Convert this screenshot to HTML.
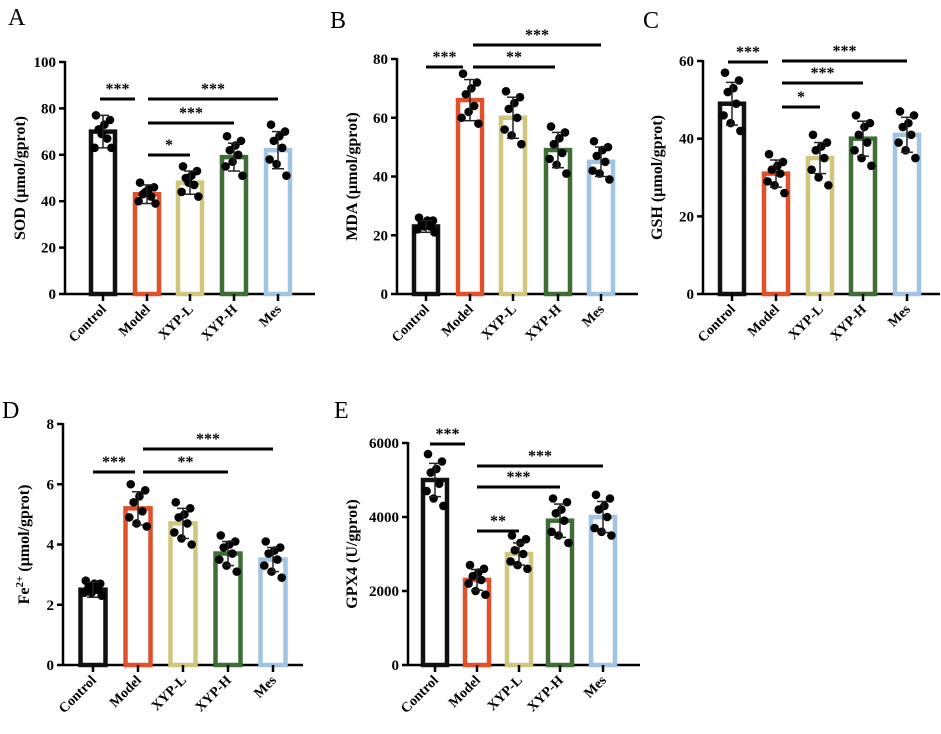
<!DOCTYPE html>
<html><head><meta charset="utf-8"><style>
body{margin:0;background:#fff}
svg{display:block;font-family:"Liberation Serif",serif}
</style></head><body>
<svg id="fig" width="941" height="734" viewBox="0 0 941 734"></svg>
<script>
const groups=["Control","Model","XYP-L","XYP-H","Mes"];
const colors=["#111111","#e0512b","#cfc57d","#3e6d36","#a0c4e2"];
const sodMeans=[70,43,48,59,62], sodSd=[7,4,5,6,8];
const sodPts=[[77,75,71,67,63,63,69,73],[48,46,43,42,40,39,44,45],[55,53,50,47,44,42,48,51],[68,66,62,60,55,51,57,64],[73,70,66,63,58,51,56,68]];
const mdaMeans=[23,66,60,49,45], mdaSd=[2,7,7,6,5];
const mdaPts=[[26,25,24,23,22,21,23,25],[75,72,68,64,60,58,62,70],[69,67,63,60,56,51,54,65],[57,55,51,48,46,41,44,53],[52,50,47,45,42,39,41,49]];
const gshMeans=[49,31,35,40,41], gshSd=[5.5,3.5,4,4.5,4.5];
const gshPts=[[57,55,52,49,46,42,44,53],[36,34,32,31,29,26,28,33],[41,39,37,35,32,28,30,38],[46,44,41,39,37,33,35,43],[47,46,43,41,39,35,37,44]];
const feMeans=[2.5,5.2,4.7,3.7,3.5], feSd=[0.25,0.55,0.5,0.4,0.4];
const fePts=[[2.8,2.7,2.6,2.5,2.4,2.3,2.4,2.7],[6.0,5.8,5.4,5.1,4.9,4.6,4.7,5.6],[5.4,5.2,4.9,4.7,4.4,4.0,4.2,5.0],[4.3,4.1,3.9,3.7,3.5,3.1,3.3,4.0],[4.1,3.9,3.7,3.5,3.3,2.9,3.1,3.8]];
const gpxMeans=[5000,2300,3000,3900,4000], gpxSd=[450,280,300,450,420];
const gpxPts=[[5700,5500,5200,4900,4700,4300,4500,5300],[2700,2600,2400,2300,2200,1900,2000,2500],[3500,3400,3100,3000,2800,2600,2700,3300],[4500,4400,4100,3900,3600,3300,3500,4200],[4600,4500,4200,4000,3700,3500,3600,4300]];
const sodTicks=[0,20,40,60,80,100], mdaTicks=[0,20,40,60,80], gshTicks=[0,20,40,60], feTicks=[0,2,4,6,8], gpxTicks=[0,2000,4000,6000];
const NS="http://www.w3.org/2000/svg";
const svg=document.getElementById('fig');
function mk(tag,attrs,parent,txt){const e=document.createElementNS(NS,tag);for(const k in attrs)e.setAttribute(k,attrs[k]);if(txt!==undefined)e.textContent=txt;(parent||svg).appendChild(e);return e;}
const jit=[-0.25,0.25,-0.15,0.15,-0.3,0.3,-0.05,0.05];
function panel(o){
  const g=mk('g',{});
  
  
  const ymax=o.ticks[o.ticks.length-1];
  const Y=v=>o.y0-(v/ymax)*(o.y0-o.yTop);
  const X=i=>o.cx[i];
  const L=mk('text',{x:o.lx,y:o.ly,'font-size':24},g,o.letter);
  
  const ya=mk('line',{x1:o.ax,y1:o.yTop-1,x2:o.ax,y2:o.y0+1,stroke:'#000','stroke-width':2.5},g);
  
  const xa=mk('line',{x1:o.ax,y1:o.y0,x2:o.axEnd,y2:o.y0,stroke:'#000','stroke-width':2.5},g);
  
  o.ticks.forEach(t=>{
    mk('line',{x1:o.ax-6,y1:Y(t),x2:o.ax,y2:Y(t),stroke:'#000','stroke-width':2.5},g);
    const tl=mk('text',{x:o.ax-9,y:Y(t)+5,'font-size':15,'font-weight':'bold','text-anchor':'end'},g,t);
    
  });
  const yt=mk('text',{transform:`translate(${o.ytx},${(o.yTop+o.y0)/2}) rotate(-90)`,'font-size':16,'font-weight':'bold','text-anchor':'middle'},g);
  
  if(o.fe){mk('tspan',{},yt,'Fe');mk('tspan',{dy:-6,'font-size':11},yt,'2+');mk('tspan',{dy:6},yt,' (µmol/gprot)');}
  else yt.textContent=o.title;
  groups.forEach((gn,i)=>{
    const bw=o.bw;
    const b=mk('rect',{x:X(i)-bw/2+2,y:Y(o.means[i]),width:bw-4,height:o.y0-Y(o.means[i]),fill:'none',stroke:colors[i],'stroke-width':4.5},g);
    
    mk('line',{x1:X(i),y1:o.y0,x2:X(i),y2:o.y0+7,stroke:'#000','stroke-width':2.5},g);
    const xl=mk('text',{transform:`translate(${X(i)+4},${o.y0+16}) rotate(-45)`,'font-size':14,'font-weight':'bold','text-anchor':'end'},g,gn);
    
    o.pts[i].forEach((v,k)=>{
      const d=mk('circle',{cx:X(i)+jit[k]*bw,cy:Y(v),r:4.3,fill:'#000'},g);
      
    });
    const m=o.means[i],s=o.sd[i];
    mk('line',{x1:X(i),y1:Y(m+s),x2:X(i),y2:Y(m-s),stroke:'#222','stroke-width':1.5},g);
    mk('line',{x1:X(i)-6,y1:Y(m+s),x2:X(i)+6,y2:Y(m+s),stroke:'#222','stroke-width':1.5},g);
    mk('line',{x1:X(i)-6,y1:Y(m-s),x2:X(i)+6,y2:Y(m-s),stroke:'#222','stroke-width':1.5},g);
  });
  o.sig.forEach(s=>{
    const l=mk('line',{x1:s[0],y1:s[2],x2:s[1],y2:s[2],stroke:'#000','stroke-width':3},g);
    
    const t=mk('text',{x:(s[0]+s[1])/2,y:s[2]-5,'font-size':16,'font-weight':'bold','text-anchor':'middle'},g,s[3]);
    
  });
}
panel({name:'panel-a-sod',letter:'A',lx:8,ly:25,ax:65,axEnd:315,y0:294,yTop:62,ticks:sodTicks,means:sodMeans,sd:sodSd,pts:sodPts,cx:[103,147,190,234,278],bw:28,ytx:25,title:'SOD (µmol/gprot)',
 sig:[[100,135,99,'***'],[148,278,99,'***'],[148,234,123,'***'],[148,190,155,'*']]});
panel({name:'panel-b-mda',letter:'B',lx:330,ly:28,ax:397,axEnd:638,y0:294,yTop:59,ticks:mdaTicks,means:mdaMeans,sd:mdaSd,pts:mdaPts,cx:[426,470,513,558,601],bw:28,ytx:357,title:'MDA (µmol/gprot)',
 sig:[[426,463,67,'***'],[473,555,67,'**'],[473,601,45,'***']]});
panel({name:'panel-c-gsh',letter:'C',lx:643,ly:28,ax:703,axEnd:940,y0:294,yTop:61,ticks:gshTicks,means:gshMeans,sd:gshSd,pts:gshPts,cx:[732,776,820,863,907],bw:28,ytx:662,title:'GSH (µmol/gprot)',
 sig:[[728,768,62,'***'],[782,907,61,'***'],[782,863,83,'***'],[782,820,107,'*']]});
panel({name:'panel-d-fe',letter:'D',lx:2,ly:418,ax:63,axEnd:303,y0:665,yTop:424,ticks:feTicks,means:feMeans,sd:feSd,pts:fePts,cx:[93,138,183,228,273],bw:29,ytx:29,fe:true,
 sig:[[93,135,472,'***'],[143,228,472,'**'],[143,273,449,'***']]});
panel({name:'panel-e-gpx4',letter:'E',lx:334,ly:418,ax:408,axEnd:640,y0:665,yTop:443,ticks:gpxTicks,means:gpxMeans,sd:gpxSd,pts:gpxPts,cx:[435,477,519,560,603],bw:28,ytx:357,title:'GPX4 (U/gprot)',
 sig:[[430,465,444,'***'],[477,603,466,'***'],[477,560,487,'***'],[477,519,531,'**']]});
</script>
</body></html>
